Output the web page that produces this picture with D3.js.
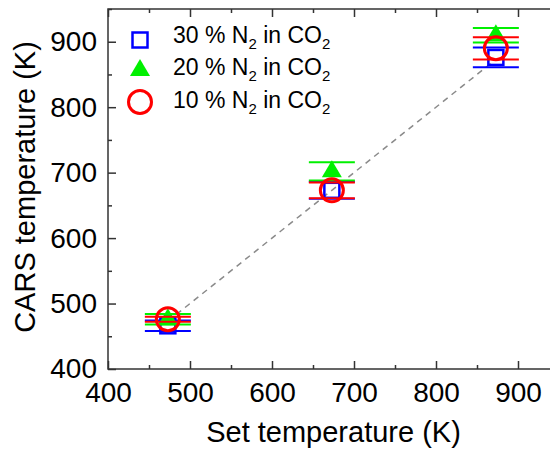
<!DOCTYPE html>
<html>
<head>
<meta charset="utf-8">
<script src="https://cdn.jsdelivr.net/npm/d3@7"></script>
<style>
  body { margin: 0; background: #fff; }
  svg { display: block; font-family: Arial, "Liberation Sans", sans-serif; }
</style>
</head>
<body>
<div id="graf"></div>
<script>
// datos
setTemp = [473, 673, 873]
n30 = [466, 673, 876]
n30Err = [8, 13, 15]
n20 = [476, 702, 910]
n20Err = [8, 14, 11]
n10 = [476, 673, 890]
n10Err = [4, 12, 17]
majorTicks = [400, 500, 600, 700, 800, 900]
minorTicks = [450, 550, 650, 750, 850, 950]
legendLabels = ['30 % N', '20 % N', '10 % N']

ancho_total = 550
alto_total = 452
margins = { top: 9, left: 108, right: -9, bottom: 83 }
ancho = ancho_total - margins.left - margins.right
alto = alto_total - margins.top - margins.bottom

svg = d3.select('#graf').append('svg')
  .attr('width', ancho_total)
  .attr('height', alto_total)

g = svg.append('g')
  .attr('transform', `translate(${margins.left}, ${margins.top})`)

x = d3.scaleLinear().domain([400, 950]).range([0, ancho])
y = d3.scaleLinear().domain([400, 950]).range([alto, 0])

// Ejes con ticks hacia adentro
function ejes(gen, scale, ticks, size, pad) {
  return gen(scale).tickValues(ticks).tickSizeInner(size).tickSizeOuter(0).tickPadding(pad)
}
xAxis = g.append('g').attr('transform', `translate(0, ${alto})`)
  .call(ejes(d3.axisBottom, x, majorTicks, -8, 13))
g.append('g').attr('transform', `translate(0, ${alto})`)
  .call(ejes(d3.axisBottom, x, minorTicks, -4, 0).tickFormat(''))
yAxis = g.append('g').call(ejes(d3.axisLeft, y, majorTicks, -8, 11))
g.append('g').call(ejes(d3.axisLeft, y, minorTicks, -4, 0).tickFormat(''))
g.append('g').call(ejes(d3.axisTop, x, majorTicks, -8, 0).tickFormat(''))
g.append('g').call(ejes(d3.axisTop, x, minorTicks, -4, 0).tickFormat(''))
g.append('g').attr('transform', `translate(${ancho}, 0)`)
  .call(ejes(d3.axisRight, y, majorTicks, -8, 0).tickFormat(''))
g.append('g').attr('transform', `translate(${ancho}, 0)`)
  .call(ejes(d3.axisRight, y, minorTicks, -4, 0).tickFormat(''))

g.selectAll('.domain').remove()
g.selectAll('.tick line').attr('stroke', '#333').attr('stroke-width', 1.5)
g.selectAll('.tick text').attr('font-size', 28).attr('fill', '#000')
  .style('font-family', 'Arial, "Liberation Sans", sans-serif')

g.append('rect')
  .attr('width', ancho).attr('height', alto)
  .attr('fill', 'none').attr('stroke', '#333').attr('stroke-width', 1.5)

// Titulos de ejes
svg.append('text')
  .attr('x', margins.left + ancho / 2).attr('y', 442)
  .attr('text-anchor', 'middle').attr('font-size', 29)
  .text('Set temperature (K)')
svg.append('text')
  .attr('transform', 'translate(35, 187) rotate(-90)')
  .attr('text-anchor', 'middle').attr('font-size', 29)
  .text('CARS temperature (K)')

// Linea y = x punteada
g.append('line')
  .attr('x1', x(setTemp[0])).attr('y1', y(setTemp[0]))
  .attr('x2', x(setTemp[2])).attr('y2', y(setTemp[2]))
  .attr('stroke', '#8a8a8a').attr('stroke-width', 1.5)
  .attr('stroke-dasharray', '6,5')

series = [
  { vals: n30, err: n30Err, color: '#0000ff', shape: 'square' },
  { vals: n20, err: n20Err, color: '#00f000', shape: 'triangle' },
  { vals: n10, err: n10Err, color: '#ff0000', shape: 'circle' }
]

function marker(sel, shape, color) {
  if (shape === 'square') {
    sel.append('rect').attr('x', -7.5).attr('y', -7.5).attr('width', 15).attr('height', 15)
      .attr('fill', 'none').attr('stroke', color).attr('stroke-width', 2.5)
  } else if (shape === 'triangle') {
    sel.append('path').attr('d', 'M0,-11L10,6L-10,6Z').attr('fill', color)
  } else {
    sel.append('circle').attr('r', 11.5)
      .attr('fill', 'none').attr('stroke', color).attr('stroke-width', 3)
  }
}

series.forEach(s => {
  const cg = g.append('g')
  setTemp.forEach((t, i) => {
    ;[s.vals[i] - s.err[i], s.vals[i] + s.err[i]].forEach(v => {
      cg.append('line')
        .attr('x1', x(t) - 23).attr('x2', x(t) + 23)
        .attr('y1', y(v)).attr('y2', y(v))
        .attr('stroke', s.color).attr('stroke-width', 2)
    })
  })
  setTemp.forEach((t, i) => {
    const m = cg.append('g').attr('transform', `translate(${x(t)}, ${y(s.vals[i])})`)
    marker(m, s.shape, s.color)
  })
})

// Leyenda
legendY = [40, 70, 102]
series.forEach((s, i) => {
  const lg = svg.append('g').attr('transform', `translate(140, ${legendY[i]})`)
  marker(lg, s.shape, s.color)
  const t = svg.append('text')
    .attr('x', 173).attr('y', legendY[i] + 3 + (i === 0 ? 0 : i * 1.5))
    .attr('font-size', 23)
  t.append('tspan').text(legendLabels[i])
  t.append('tspan').attr('font-size', 15).attr('dy', 6).text('2')
  t.append('tspan').attr('dy', -6).text(' in CO')
  t.append('tspan').attr('font-size', 15).attr('dy', 6).text('2')
})
</script>
</body>
</html>
